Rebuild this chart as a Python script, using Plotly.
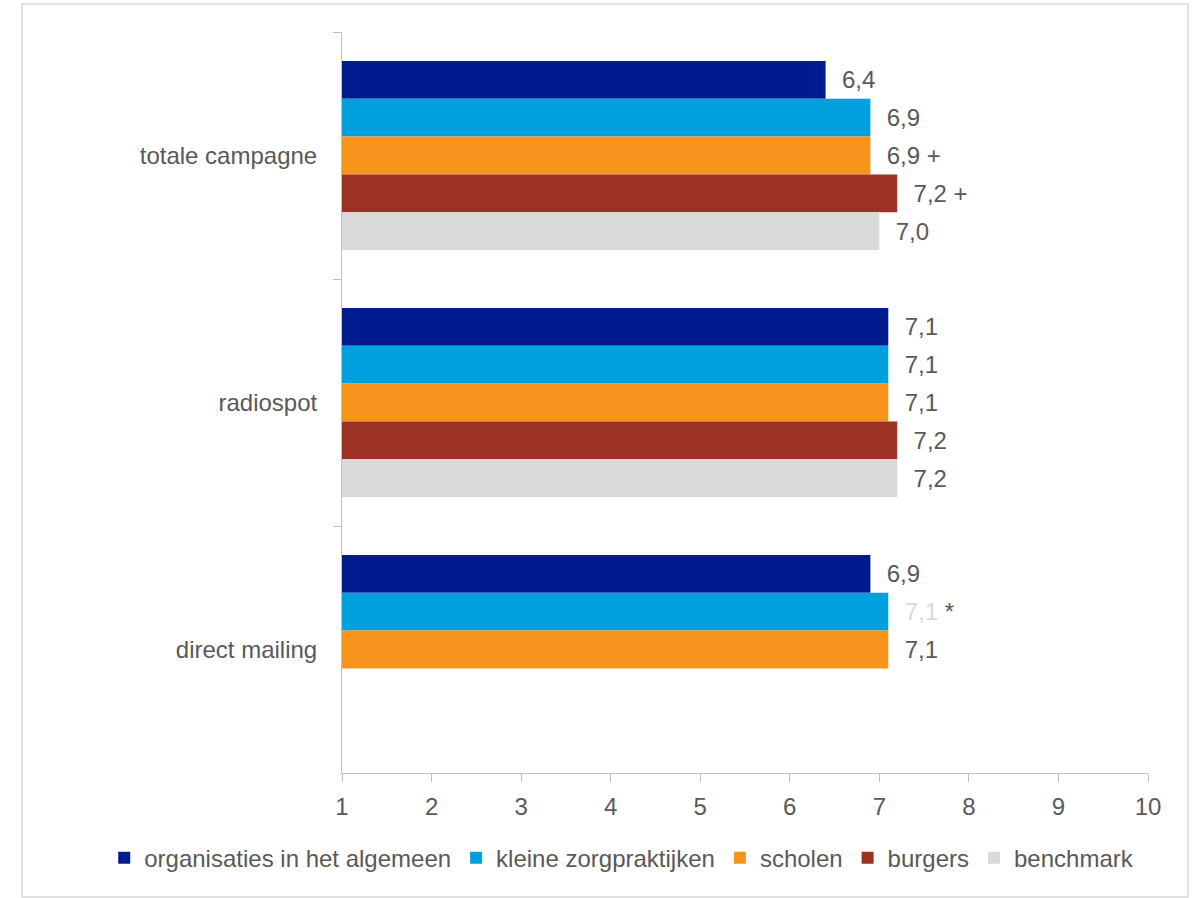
import plotly.graph_objects as go

categories = ["totale campagne", "radiospot", "direct mailing"]
series_names = ["organisaties in het algemeen", "kleine zorgpraktijken", "scholen", "burgers", "benchmark"]
series_colors = ["#001B8E", "#00A0DF", "#F7941D", "#9B3224", "#D9D9D9"]

organisaties = [6.4, 7.1, 6.9]
kleine_zorgpraktijken = [6.9, 7.1, 7.1]
scholen = [6.9, 7.1, 7.1]
burgers = [7.2, 7.2, None]
benchmark = [7.0, 7.2, None]

# significance markers appended to the value labels
markers = {
    "scholen": ["+", "", ""],
    "burgers": ["+", "", ""],
    "kleine zorgpraktijken": ["", "", "*"],
}

x_ticks = list(range(1, 11))

series_values = [organisaties, kleine_zorgpraktijken, scholen, burgers, benchmark]

LABEL_GREY = "#595959"
FONT = "Liberation Sans, Arial, sans-serif"
PAD = "\u00a0\u00a0"


def fmt(v):
    return f"{v:.1f}".replace(".", ",")


fig = go.Figure()
for name, color, values in zip(series_names, series_colors, series_values):
    marks = markers.get(name, ["", "", ""])
    texts = []
    for v, m in zip(values, marks):
        if v is None:
            texts.append("")
        elif m == "*":
            texts.append(f"{PAD}<span style='color:#D9D9D9'>{fmt(v)}</span>\u00a0*")
        elif m:
            texts.append(f"{PAD}{fmt(v)} {m}")
        else:
            texts.append(f"{PAD}{fmt(v)}")
    fig.add_trace(go.Bar(
        name=name,
        y=categories,
        x=values,
        orientation="h",
        marker=dict(color=color, line=dict(width=0)),
        text=texts,
        textposition="outside",
        textfont=dict(family=FONT, size=24, color=LABEL_GREY),
        constraintext="none",
        cliponaxis=False,
        hoverinfo="x+name",
    ))

fig.update_layout(
    width=1198,
    height=898,
    margin=dict(l=342, r=50, t=32, b=125),
    paper_bgcolor="white",
    plot_bgcolor="white",
    barmode="group",
    bargap=0.235,
    bargroupgap=0,
    font=dict(family=FONT, color=LABEL_GREY, size=24),
    showlegend=True,
    legend=dict(
        orientation="h",
        x=-0.295,
        xanchor="left",
        y=-0.115,
        yanchor="middle",
        font=dict(family=FONT, size=24, color=LABEL_GREY),
        itemwidth=30,
        tracegroupgap=0,
    ),
    xaxis=dict(
        range=[1, 10],
        tickvals=x_ticks,
        ticktext=[str(t) for t in x_ticks],
        showgrid=False,
        zeroline=False,
        showline=True,
        linecolor="#BFBFBF",
        linewidth=1,
        ticks="outside",
        ticklen=8,
        tickcolor="#BFBFBF",
        ticklabelstandoff=4,
        tickfont=dict(family=FONT, size=24, color=LABEL_GREY),
    ),
    yaxis=dict(
        autorange="reversed",
        showgrid=False,
        showline=True,
        linecolor="#BFBFBF",
        linewidth=1,
        ticks="outside",
        tickson="boundaries",
        ticklen=8,
        tickcolor="#BFBFBF",
        ticklabelstandoff=19,
        tickfont=dict(family=FONT, size=24, color=LABEL_GREY),
    ),
    shapes=[dict(
        type="rect",
        xref="paper", yref="paper",
        x0=(22 - 342) / 806, x1=(1188 - 342) / 806,
        y0=(773 - 897) / 741, y1=(773 - 4) / 741,
        line=dict(color="#D9D9D9", width=1.5),
        fillcolor="rgba(0,0,0,0)",
        layer="below",
    )],
)

fig.write_html("out.html")
